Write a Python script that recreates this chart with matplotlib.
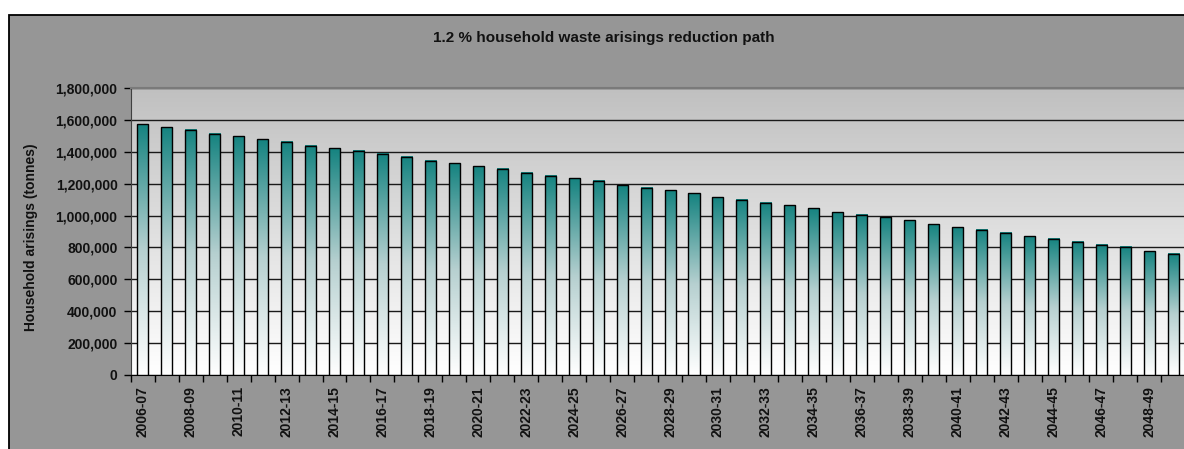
import matplotlib.pyplot as plt
import matplotlib.patches as mpatches
from matplotlib.colors import LinearSegmentedColormap
from matplotlib.ticker import FuncFormatter
import numpy as np

plt.rcParams['font.family'] = ['Liberation Sans', 'DejaVu Sans']

# financial years 2006-07 .. 2049-50
years = ["%d-%02d" % (y, (y + 1) % 100) for y in range(2006, 2050)]
# household arisings (tonnes)
arisings = [1572000, 1555000, 1538000, 1513000, 1497000, 1480000, 1463000, 1438000,
            1422000, 1405000, 1388000, 1369000, 1344000, 1328000, 1309000, 1292000,
            1269000, 1250000, 1234000, 1219000, 1190000, 1173000, 1158000, 1141000,
            1114000, 1099000, 1081000, 1064000, 1047000, 1020000, 1005000, 989000,
            970000, 945000, 928000, 911000, 892000, 870000, 853000, 836000,
            817000, 803000, 776000, 759000]
yticks = [0, 200000, 400000, 600000, 800000, 1000000, 1200000, 1400000, 1600000, 1800000]

W, H = 1184, 449
fig = plt.figure(figsize=(W / 100, H / 100), dpi=100)
fig.patch.set_facecolor('white')

# grey chart area with a black border (cropped at right/bottom)
frame = mpatches.Rectangle((9 / W, -0.05), 1.1, 1 - 15 / H + 0.05, transform=fig.transFigure,
                           facecolor='#969696', edgecolor='black', lw=1.3, zorder=-10)
fig.patches.append(frame)

fig.text(604 / W, 1 - 38 / H, "1.2 % household waste arisings reduction path",
         ha='center', va='center', fontsize=11, fontweight='bold', color='#111111')

ax = fig.add_axes([130.8 / W, 1 - 375 / H, 1054.5 / W, 287 / H])
ax.set_facecolor('none')

# plot area gradient grey -> white
bg = LinearSegmentedColormap.from_list('bg', ['white', '#c0c0c0'])
ax.imshow(np.linspace(0, 1, 256).reshape(-1, 1), cmap=bg, origin='lower', aspect='auto',
          extent=[0, 1, 0, 1], transform=ax.transAxes, zorder=0)

x = np.arange(len(years))
bars = ax.bar(x, arisings, width=0.46, facecolor='none', edgecolor='black', lw=1, zorder=4)

teal = LinearSegmentedColormap.from_list('teal', ['white', '#b6d0d0', '#158380'])
grad = np.linspace(0, 1, 256).reshape(-1, 1)
for b in bars:
    ax.imshow(grad, cmap=teal, origin='lower', aspect='auto', zorder=3,
              extent=[b.get_x(), b.get_x() + b.get_width(), 0, b.get_height()])

ax.set_xlim(-0.5, len(years) - 0.5)
ax.set_ylim(0, 1800000)
ax.set_yticks(yticks)
ax.yaxis.set_major_formatter(FuncFormatter(lambda v, p: format(int(v), ',')))
ax.yaxis.grid(True, color='#1a1a1a', lw=1)
ax.set_axisbelow(True)
for g in ax.get_ygridlines():
    g.set_zorder(1)

ax.set_xticks(x[::2])
ax.set_xticklabels(years[::2], rotation=90)
ax.set_xticks(np.arange(len(years) + 1) - 0.5, minor=True)
ax.tick_params(axis='x', which='major', length=0, pad=8, labelsize=10)
ax.tick_params(axis='x', which='minor', length=5, width=1, direction='out')
ax.tick_params(axis='y', length=5, width=1, pad=4.5, labelsize=10)
for t in ax.get_xticklabels() + ax.get_yticklabels():
    t.set_fontweight('bold')
    t.set_color('#111111')

ax.set_ylabel("Household arisings (tonnes)", fontsize=10, fontweight='bold', color='#111111')
ax.yaxis.set_label_coords(-0.088, 0.48)

ax.spines['right'].set_visible(False)
ax.spines['top'].set_color('#7a7a7a')
ax.spines['top'].set_linewidth(1.5)
ax.spines['left'].set_color('#404040')
ax.spines['bottom'].set_color('black')

plt.savefig('out.png', dpi=100)
